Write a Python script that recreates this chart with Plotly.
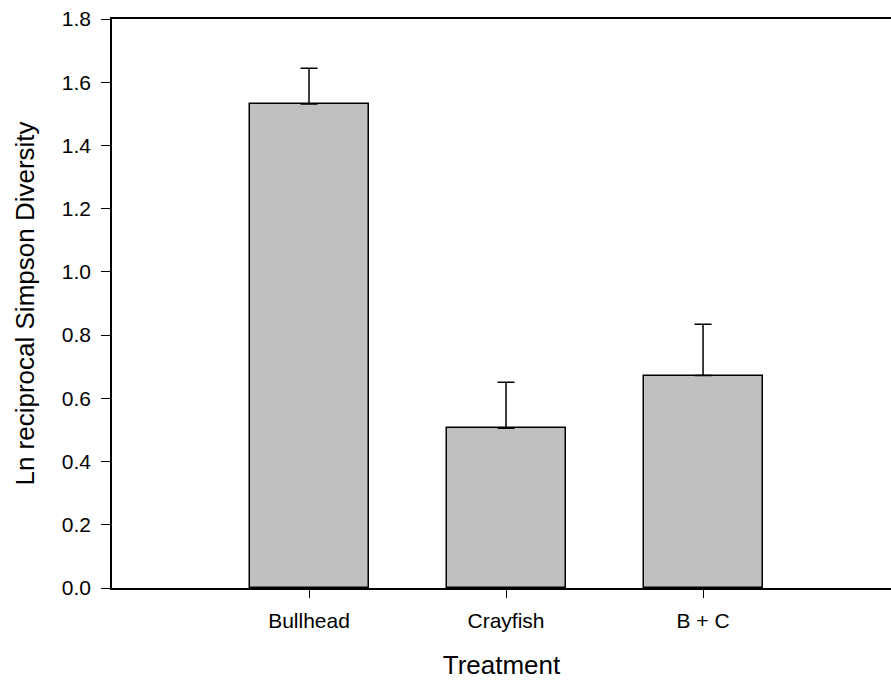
import plotly.graph_objects as go

# Treatment groups and ln reciprocal Simpson diversity (mean + SE)
treatments = ["Bullhead", "Crayfish", "B + C"]
diversity_mean = [1.531, 0.505, 0.672]
diversity_se = [0.113, 0.146, 0.162]

fig = go.Figure()
fig.add_trace(
    go.Bar(
        x=list(range(len(treatments))),
        y=diversity_mean,
        width=0.604,
        marker=dict(color="#c0c0c0", line=dict(color="black", width=1.5)),
        error_y=dict(
            type="data",
            symmetric=False,
            array=diversity_se,
            arrayminus=[0] * len(diversity_se),
            color="black",
            thickness=1.5,
            width=8.5,
        ),
        showlegend=False,
    )
)

font_family = "Liberation Sans, Arial, sans-serif"

fig.update_layout(
    width=891,
    height=682,
    margin=dict(l=112, r=0, t=19, b=94),
    paper_bgcolor="white",
    plot_bgcolor="white",
    font=dict(family=font_family, color="black"),
    bargap=0,
)

fig.update_xaxes(
    range=[-1, 2.954],
    tickmode="array",
    tickvals=list(range(len(treatments))),
    ticktext=treatments,
    ticks="outside",
    ticklen=8,
    tickwidth=1.2,
    tickcolor="black",
    tickfont=dict(size=21, family=font_family),
    ticklabelstandoff=5,
    showline=True,
    linecolor="black",
    linewidth=1.5,
    mirror=True,
    showgrid=False,
    zeroline=False,
    title=dict(text="Treatment", font=dict(size=26, family=font_family), standoff=25),
)

fig.update_yaxes(
    range=[0, 1.8],
    tick0=0,
    dtick=0.2,
    tickformat=".1f",
    ticks="outside",
    ticklen=9,
    tickwidth=1.2,
    tickcolor="black",
    tickfont=dict(size=21, family=font_family),
    ticklabelstandoff=6,
    showline=True,
    linecolor="black",
    linewidth=1.5,
    showgrid=False,
    zeroline=False,
    title=dict(text="Ln reciprocal Simpson Diversity", font=dict(size=26, family=font_family), standoff=20),
)

fig.write_html("out.html")
